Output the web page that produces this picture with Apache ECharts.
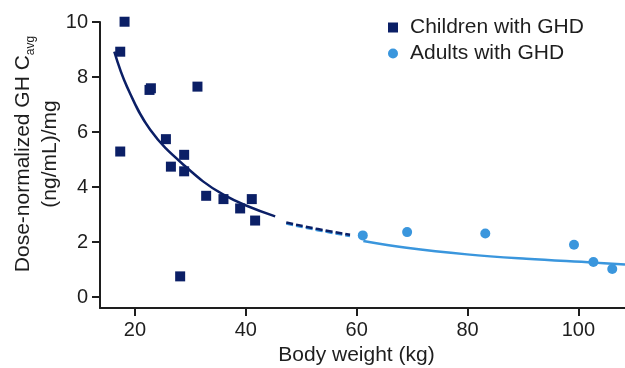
<!DOCTYPE html>
<html>
<head>
<meta charset="utf-8">
<script src="https://cdn.jsdelivr.net/npm/echarts@6/dist/echarts.min.js"></script>
<style>
  html, body { margin: 0; padding: 0; background: #fff; }
  #chart { width: 625px; height: 368px; }
</style>
</head>
<body>
<div id="chart"></div>
<script>
  // children with GHD (squares)
  var childWeight = [18.13, 17.35, 17.35, 22.63, 22.88, 31.28, 25.59, 28.88, 26.49, 28.88, 28.16, 32.85, 35.97, 38.98, 41.08, 41.68];
  var childCavg = [10.01, 8.92, 5.29, 7.53, 7.59, 7.65, 5.74, 5.17, 4.74, 4.57, 0.75, 3.68, 3.56, 3.22, 3.56, 2.78];

  // adults with GHD (circles)
  var adultWeight = [61.1, 69.1, 83.2, 99.2, 102.7, 106.1];
  var adultCavg = [2.24, 2.36, 2.31, 1.9, 1.27, 1.02];

  // fitted curves
  var childFitX = [16.28, 18.56, 22.76, 28.76, 35.96, 45.3];
  var childFitY = [8.92, 7.65, 6.08, 4.81, 3.72, 2.93];
  var childExtX = [47.3, 53, 58.8];
  var childExtY = [2.71, 2.47, 2.26];
  var adultExtY = [2.67, 2.43, 2.22];
  var adultFitX = [61.2, 69, 79.9, 90.6, 102.8, 108.4];
  var adultFitY = [2.04, 1.79, 1.55, 1.39, 1.25, 1.18];

  var xTicks = [20, 40, 60, 80, 100];
  var yTicks = [0, 2, 4, 6, 8, 10];

  var navy = '#0b1f66';
  var blue = '#3a96dd';
  var ink = '#1e1e1e';
  var font = '"Liberation Sans", Arial, sans-serif';

  function pairs(xs, ys) {
    return xs.map(function (x, i) { return [x, ys[i]]; });
  }

  var chart = echarts.init(document.getElementById('chart'));

  chart.setOption({
    animation: false,
    backgroundColor: '#fff',
    textStyle: { fontFamily: font, color: ink },
    grid: { left: 100, right: 0, top: 22, bottom: 60, containLabel: false, outerBoundsMode: 'none' },
    legend: {
      orient: 'vertical',
      left: 383,
      top: 12,
      itemGap: 5,
      itemWidth: 10,
      itemHeight: 10,
      textStyle: { fontSize: 21, color: ink, fontFamily: font, padding: [0, 0, 0, 7] },
      data: [
        { name: 'Children with GHD', icon: 'rect' },
        { name: 'Adults with GHD', icon: 'circle' }
      ]
    },
    xAxis: {
      type: 'value',
      min: 13.7,
      max: 108.4,
      name: 'Body weight (kg)',
      nameLocation: 'middle',
      nameGap: 35,
      nameTextStyle: { fontSize: 21, color: ink, fontFamily: font, padding: [0, 12, 0, 0] },
      splitLine: { show: false },
      axisLine: { show: true, onZero: false, lineStyle: { color: ink, width: 2 } },
      axisTick: { show: true, customValues: xTicks, length: 8, inside: false, lineStyle: { color: ink, width: 2 } },
      axisLabel: { customValues: xTicks, fontSize: 20, color: ink, fontFamily: font, margin: 12 }
    },
    yAxis: {
      type: 'value',
      min: -0.4,
      max: 10,
      splitLine: { show: false },
      axisLine: { show: true, onZero: false, lineStyle: { color: ink, width: 2 } },
      axisTick: { show: true, customValues: yTicks, length: 8, inside: false, lineStyle: { color: ink, width: 2 } },
      axisLabel: { customValues: yTicks, fontSize: 20, color: ink, fontFamily: font, margin: 12 }
    },
    graphic: [{
      type: 'text',
      x: 37,
      y: 154,
      rotation: Math.PI / 2,
      style: {
        text: '{t|Dose-normalized GH C}{s|avg}\n{t|(ng/mL)/mg}',
        align: 'center',
        verticalAlign: 'middle',
        fill: ink,
        font: '21px ' + font,
        rich: {
          t: { fontSize: 21, lineHeight: 27, fontFamily: font, fill: ink },
          s: { fontSize: 12, lineHeight: 27, fontFamily: font, fill: ink, verticalAlign: 'bottom' }
        }
      }
    }],
    series: [
      {
        name: 'child fit',
        type: 'line',
        smooth: 0.4,
        showSymbol: false,
        silent: true,
        lineStyle: { color: navy, width: 2.5 },
        data: pairs(childFitX, childFitY)
      },
      {
        name: 'adult extrapolation',
        type: 'line',
        smooth: true,
        showSymbol: false,
        silent: true,
        lineStyle: { color: blue, width: 2.5, type: [7, 3] },
        data: pairs(childExtX, adultExtY)
      },
      {
        name: 'child extrapolation',
        type: 'line',
        smooth: true,
        showSymbol: false,
        silent: true,
        lineStyle: { color: navy, width: 2.5, type: [7, 3] },
        data: pairs(childExtX, childExtY)
      },
      {
        name: 'adult fit',
        type: 'line',
        smooth: 0.4,
        showSymbol: false,
        silent: true,
        lineStyle: { color: blue, width: 2.5 },
        data: pairs(adultFitX, adultFitY)
      },
      {
        name: 'Children with GHD',
        type: 'scatter',
        symbol: 'rect',
        symbolSize: 10,
        clip: false,
        itemStyle: { color: navy, opacity: 1 },
        data: pairs(childWeight, childCavg)
      },
      {
        name: 'Adults with GHD',
        type: 'scatter',
        symbol: 'circle',
        symbolSize: 10,
        clip: false,
        itemStyle: { color: blue, opacity: 1 },
        data: pairs(adultWeight, adultCavg)
      }
    ]
  });
</script>
</body>
</html>
